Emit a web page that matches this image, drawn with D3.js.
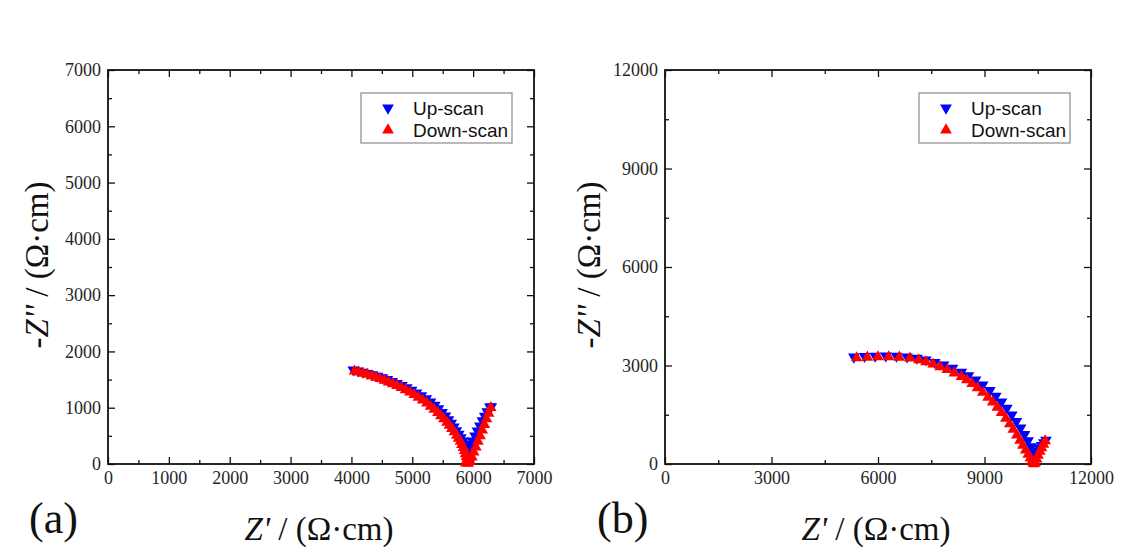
<!DOCTYPE html>
<html>
<head>
<meta charset="utf-8">
<script src="https://cdn.jsdelivr.net/npm/d3@7"></script>
<style>
  html, body { margin: 0; padding: 0; background: #fff; }
  svg { display: block; }
</style>
</head>
<body>
<svg id="chart" width="1121" height="553"></svg>
<script>
// ---------------- DATA ----------------
const seriesNames = ["Up-scan", "Down-scan"];

// Panel (a): [Z', -Z''] in Ω·cm
const upScanA = [
  [4030,1675],[4110,1655],[4190,1635],[4270,1612],[4350,1588],[4430,1562],[4510,1533],
  [4590,1502],[4670,1470],[4750,1435],[4830,1398],[4910,1357],[4990,1313],[5070,1266],
  [5150,1215],[5230,1160],[5300,1105],[5370,1045],[5430,985],[5490,920],[5545,855],
  [5595,790],[5640,725],[5685,660],[5725,595],[5765,530],[5800,470],[5835,410],
  [5865,360],[5895,310],[5925,280],
  [5955,330],[5990,410],[6030,500],[6070,590],[6110,680],[6150,770],[6190,850],
  [6230,930],[6275,1015],[6300,1020]
];
const downScanA = [
  [4050,1650],[4120,1630],[4190,1610],[4260,1590],[4330,1565],[4400,1540],[4470,1515],
  [4540,1485],[4610,1455],[4680,1425],[4750,1390],[4820,1355],[4890,1315],[4960,1275],
  [5030,1230],[5100,1185],[5170,1135],[5240,1080],[5300,1025],[5360,970],[5420,910],
  [5470,855],[5520,800],[5570,740],[5610,685],[5650,630],[5690,570],[5730,510],
  [5760,455],[5790,400],[5815,345],[5840,290],[5860,235],[5875,180],[5890,130],
  [5900,85],[5905,45],[5880,15],[5920,10],
  [5950,40],[5980,120],[6010,210],[6045,300],[6080,400],[6115,500],[6150,600],
  [6185,700],[6220,800],[6255,900],[6290,1000]
];

// Panel (b)
const upScanB = [
  [5320,3260],[5620,3280],[5920,3290],[6220,3295],[6520,3285],[6820,3265],[7100,3225],
  [7350,3170],[7600,3100],[7850,3020],[8100,2920],[8350,2800],[8550,2690],[8750,2560],
  [8950,2410],[9150,2240],[9320,2070],[9480,1890],[9630,1700],[9770,1500],[9900,1300],
  [10020,1100],[10130,900],[10230,710],[10320,530],[10400,380],[10440,330],
  [10490,400],[10550,490],[10610,570],[10670,650],[10730,730]
];
const downScanB = [
  [5400,3230],[5700,3250],[6000,3260],[6300,3260],[6600,3250],[6900,3220],[7150,3170],
  [7350,3110],[7550,3040],[7750,2960],[7950,2870],[8150,2770],[8350,2660],[8500,2560],
  [8650,2450],[8800,2320],[8950,2180],[9100,2030],[9230,1880],[9360,1720],[9480,1560],
  [9600,1390],[9710,1220],[9810,1050],[9910,880],[10000,720],[10080,570],[10160,420],
  [10230,290],[10290,180],[10340,90],[10370,30],[10400,0],
  [10430,40],[10470,150],[10510,260],[10560,380],[10610,490],[10660,600],[10710,700]
];

// Tick values
const xTicksA = [0,1000,2000,3000,4000,5000,6000,7000];
const xMinorA = [500,1500,2500,3500,4500,5500,6500];
const yTicksA = [0,1000,2000,3000,4000,5000,6000,7000];
const yMinorA = [500,1500,2500,3500,4500,5500,6500];
const xTicksB = [0,3000,6000,9000,12000];
const xMinorB = [1500,4500,7500,10500];
const yTicksB = [0,3000,6000,9000,12000];
const yMinorB = [1500,4500,7500,10500];

const panelLabels = ["(a)", "(b)"];

// ---------------- DRAW ----------------
const svg = d3.select("#chart");
svg.append("rect").attr("width",1121).attr("height",553).attr("fill","#fff");

const panels = [
  { left:108, right:534, top:70, bottom:464, xMax:7000, yMax:7000,
    xT:xTicksA, xM:xMinorA, yT:yTicksA, yM:yMinorA, up:upScanA, down:downScanA,
    label:panelLabels[0], labelX:29, legX:361, yTitleX:36 },
  { left:665, right:1091, top:70, bottom:464, xMax:12000, yMax:12000,
    xT:xTicksB, xM:xMinorB, yT:yTicksB, yM:yMinorB, up:upScanB, down:downScanB,
    label:panelLabels[1], labelX:597, legX:919, yTitleX:588 }
];

const tickFont = "'Liberation Serif', 'Times New Roman', Times, serif";
const sansFont = "'Liberation Sans', Arial, Helvetica, sans-serif";

const triUp = d3.symbol().type(d3.symbolTriangle).size(58)();

panels.forEach(p => {
  const x = d3.scaleLinear().domain([0, p.xMax]).range([p.left, p.right]);
  const y = d3.scaleLinear().domain([0, p.yMax]).range([p.bottom, p.top]);
  const g = svg.append("g");

  const styleAxis = (sel, showLabels) => {
    sel.attr("font-family", null).attr("font-size", null);
    sel.select(".domain").remove();
    sel.selectAll(".tick line").attr("stroke","#111").attr("stroke-width",1.3);
    sel.selectAll(".tick text")
      .style("font-family", tickFont).style("font-size", "18px").attr("fill","#262626");
    if (!showLabels) sel.selectAll(".tick text").remove();
  };

  // bottom
  g.append("g").attr("transform",`translate(0,${p.bottom})`)
    .call(d3.axisBottom(x).tickValues(p.xT).tickSize(-7).tickPadding(7).tickFormat(d3.format("d")))
    .call(s => styleAxis(s, true));
  g.append("g").attr("transform",`translate(0,${p.bottom})`)
    .call(d3.axisBottom(x).tickValues(p.xM).tickSize(-4).tickFormat(""))
    .call(s => styleAxis(s, false));
  // top
  g.append("g").attr("transform",`translate(0,${p.top})`)
    .call(d3.axisTop(x).tickValues(p.xT).tickSize(-7).tickFormat(""))
    .call(s => styleAxis(s, false));
  g.append("g").attr("transform",`translate(0,${p.top})`)
    .call(d3.axisTop(x).tickValues(p.xM).tickSize(-4).tickFormat(""))
    .call(s => styleAxis(s, false));
  // left
  g.append("g").attr("transform",`translate(${p.left},0)`)
    .call(d3.axisLeft(y).tickValues(p.yT).tickSize(-7).tickPadding(7).tickFormat(d3.format("d")))
    .call(s => styleAxis(s, true));
  g.append("g").attr("transform",`translate(${p.left},0)`)
    .call(d3.axisLeft(y).tickValues(p.yM).tickSize(-4).tickFormat(""))
    .call(s => styleAxis(s, false));
  // right
  g.append("g").attr("transform",`translate(${p.right},0)`)
    .call(d3.axisRight(y).tickValues(p.yT).tickSize(-7).tickFormat(""))
    .call(s => styleAxis(s, false));
  g.append("g").attr("transform",`translate(${p.right},0)`)
    .call(d3.axisRight(y).tickValues(p.yM).tickSize(-4).tickFormat(""))
    .call(s => styleAxis(s, false));

  // frame
  g.append("rect")
    .attr("x", p.left).attr("y", p.top)
    .attr("width", p.right - p.left).attr("height", p.bottom - p.top)
    .attr("fill","none").attr("stroke","#111").attr("stroke-width",1.8);

  // data: up-scan (blue down triangles) then down-scan (red up triangles)
  g.append("g").selectAll("path").data(p.up).join("path")
    .attr("d", triUp)
    .attr("transform", d => `translate(${x(d[0])},${y(d[1])}) rotate(180)`)
    .attr("fill","#0000ff");
  g.append("g").selectAll("path").data(p.down).join("path")
    .attr("d", triUp)
    .attr("transform", d => `translate(${x(d[0])},${y(d[1])})`)
    .attr("fill","#ff0000");

  // legend
  const lg = g.append("g").attr("transform",`translate(${p.legX},93)`);
  lg.append("rect").attr("width",151).attr("height",50)
    .attr("fill","#fff").attr("stroke","#8a8a8a").attr("stroke-width",1.2);
  const items = [{name:seriesNames[0], color:"#0000ff", rot:180, y:15},
                 {name:seriesNames[1], color:"#ff0000", rot:0, y:37}];
  items.forEach(it => {
    lg.append("path").attr("d", d3.symbol().type(d3.symbolTriangle).size(60)())
      .attr("transform",`translate(27,${it.y}) rotate(${it.rot})`)
      .attr("fill", it.color);
    lg.append("text").attr("x",52).attr("y",it.y).attr("dy","0.36em")
      .style("font-family", sansFont).style("font-size","19px").attr("fill","#111")
      .text(it.name);
  });

  // x title
  const xt = svg.append("text")
    .attr("x", (p.left + p.right)/2 - 2).attr("y", 540)
    .attr("text-anchor","middle")
    .style("font-family", tickFont).style("font-size", "33px").attr("fill","#111");
  xt.append("tspan").attr("font-style","italic").text("Z'");
  xt.append("tspan").text(" / (Ω·cm)");

  // y title
  const yt = svg.append("text")
    .attr("transform", `translate(${p.yTitleX},${265}) rotate(-90)`)
    .attr("text-anchor","middle").attr("dy","0.35em")
    .style("font-family", tickFont).style("font-size", "33px").attr("fill","#111");
  yt.append("tspan").text("-");
  yt.append("tspan").attr("font-style","italic").text("Z''");
  yt.append("tspan").text(" / (Ω·cm)");

  // panel label
  svg.append("text").attr("x", p.labelX).attr("y", 533)
    .style("font-family", tickFont).style("font-size", "44px").attr("fill","#111")
    .text(p.label);
});
</script>
</body>
</html>
